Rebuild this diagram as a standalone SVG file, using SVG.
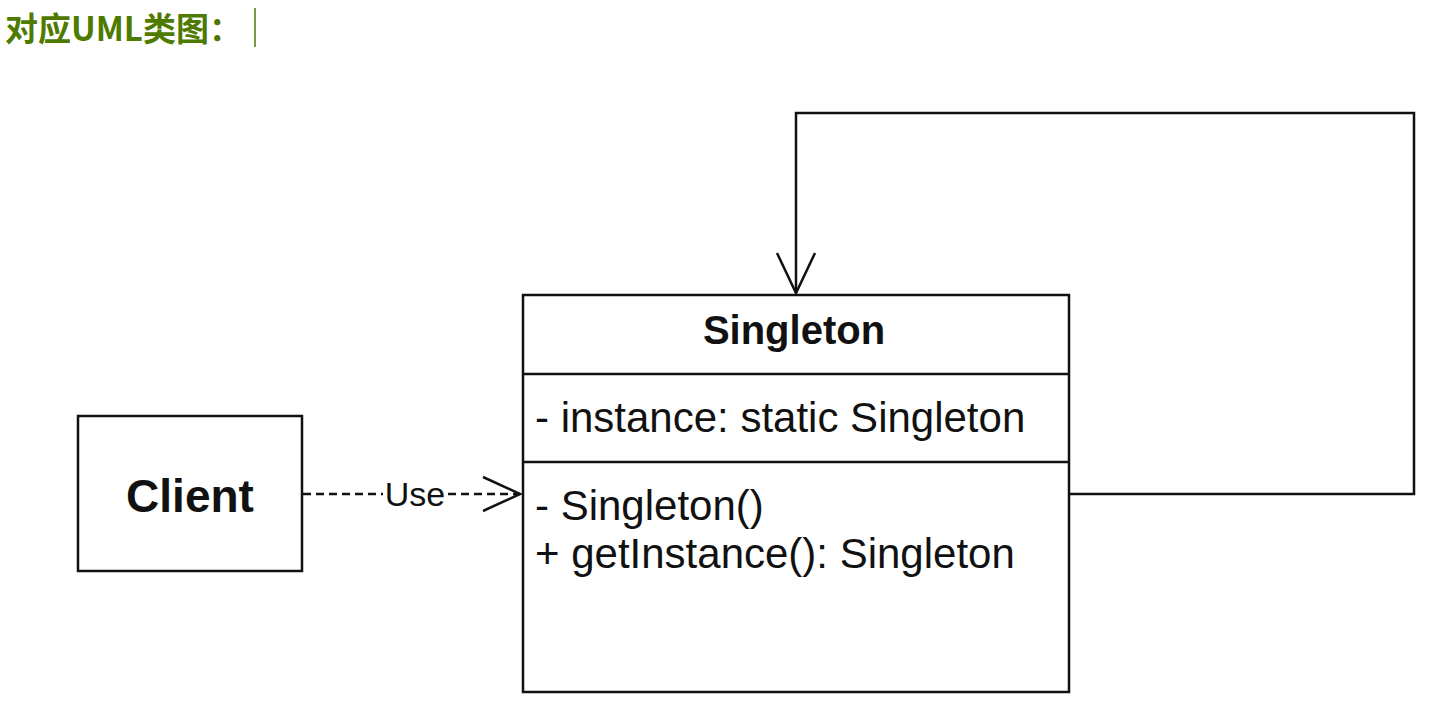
<svg xmlns="http://www.w3.org/2000/svg" width="1442" height="709" viewBox="0 0 1442 709">
<style>
.box{fill:#fff;stroke:#111;stroke-width:2.5}
.ln{fill:none;stroke:#111;stroke-width:2.5}
.t{font-family:"Liberation Sans",Arial,sans-serif;fill:#111}
.b{font-weight:bold}
</style>
<rect width="1442" height="709" fill="#fff"/>
<g id="title">
<text x="5" y="41" font-family="'Noto Sans CJK SC',sans-serif" font-weight="bold" font-size="33" fill="#4e7a00">对应UML类图：</text>
<line x1="255" y1="8" x2="255" y2="47" stroke="#4e7a00" stroke-width="1.5"/>
</g>
<g id="connectors">
<line class="ln" x1="303" y1="494" x2="383" y2="494" stroke-dasharray="8,5"/>
<line class="ln" x1="448" y1="494" x2="520" y2="494" stroke-dasharray="8,5"/>
<text class="t" x="415" y="506" font-size="34" text-anchor="middle">Use</text>
<polyline class="ln" points="483,477 520,494 483,511"/>
<polyline class="ln" points="1069,494 1414,494 1414,113 796,113 796,293"/>
<polyline class="ln" points="777,253 796,293 815,253"/>
</g>
<g id="client">
<rect class="box" x="78" y="416" width="224" height="155"/>
<text class="t b" x="190" y="512" font-size="46" text-anchor="middle">Client</text>
</g>
<g id="singleton">
<rect class="box" x="523" y="295" width="546" height="397"/>
<line class="ln" x1="523" y1="374" x2="1069" y2="374"/>
<line class="ln" x1="523" y1="462" x2="1069" y2="462"/>
<text class="t b" x="794" y="344" font-size="40" text-anchor="middle">Singleton</text>
<text class="t" x="535" y="432" font-size="42">- instance: static Singleton</text>
<text class="t" x="535" y="520" font-size="42">- Singleton()</text>
<text class="t" x="535" y="568" font-size="42">+ getInstance(): Singleton</text>
</g>
</svg>
